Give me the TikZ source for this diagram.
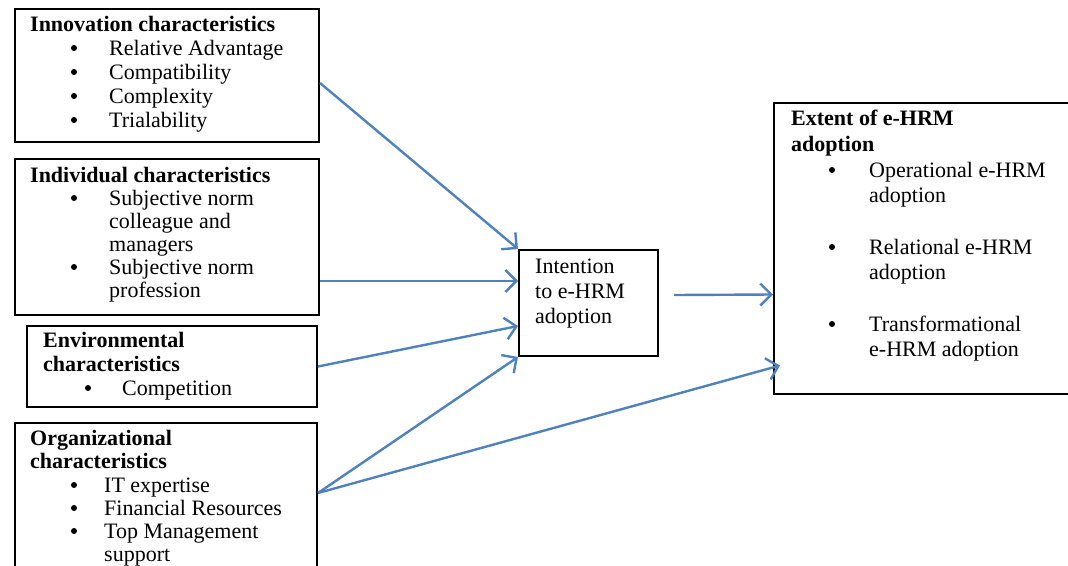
\documentclass[tikz,border=0pt]{standalone}
\usepackage{fontspec}
\setmainfont{Liberation Serif}
\usetikzlibrary{arrows.meta}
\definecolor{linkblue}{RGB}{79,129,189}
\tikzset{
  x=1pt, y=-1pt,
  box/.style={draw=black, line width=2pt, rectangle, inner sep=0pt, anchor=north west},
  txt/.style={anchor=base west, inner sep=0pt, font=\fontsize{22}{24}\selectfont},
  head/.style={txt, font=\fontsize{22}{24}\selectfont\bfseries},
  link/.style={draw=linkblue, line width=2.4pt, -{Straight Barb[length=11pt,width=22pt,line width=2.4pt]}}
}
% round list marker, centred a little above the baseline
\newcommand{\dotmark}[2]{\fill (#1,#2-7) circle (3pt);}
\begin{document}
\begin{tikzpicture}
\useasboundingbox (0,0) rectangle (1068,565);

% boxes
\node[box, minimum width=304pt, minimum height=133pt] (b1) at (14,8) {};
\node[box, minimum width=304pt, minimum height=156pt] (b2) at (14,158) {};
\node[box, minimum width=290pt, minimum height=81pt] (b3) at (26,325) {};
\node[box, minimum width=302pt, minimum height=170pt] (b4) at (14,422) {};
\node[box, minimum width=139pt, minimum height=106pt] (int) at (518,249) {};
\node[box, minimum width=320pt, minimum height=291pt] (ext) at (773,102) {};

% innovation characteristics
\node[head] (h1) at (30,31) {Innovation characteristics};
\foreach \y/\t in {55/Relative Advantage, 79/Compatibility, 103/Complexity, 127/Trialability}{
  \dotmark{74}{\y}
  \node[txt] at (109,\y) {\t};
}

% individual characteristics
\node[head] (h2) at (30,182) {Individual characteristics};
\dotmark{74}{205}
\node[txt] at (109,205) {Subjective norm};
\node[txt] at (109,228) {colleague and};
\node[txt] at (109,251) {managers};
\dotmark{74}{274}
\node[txt] at (109,274) {Subjective norm};
\node[txt] at (109,297) {profession};

% environmental characteristics
\node[head] (h3) at (43,347) {Environmental};
\node[head] at (43,371) {characteristics};
\dotmark{88}{395}
\node[txt] at (122,395) {Competition};

% organizational characteristics
\node[head] (h4) at (30,445) {Organizational};
\node[head] at (30,468) {characteristics};
\foreach \y/\t in {492/IT expertise, 515/Financial Resources, 538/Top Management}{
  \dotmark{74}{\y}
  \node[txt] at (104,\y) {\t};
}
\node[txt] at (104,561) {support};

% intention
\node[txt] at (535,273) {Intention};
\node[txt] at (535,298) {to e-HRM};
\node[txt] at (535,323) {adoption};

% extent of adoption
\node[head] (h5) at (791,125) {Extent of e-HRM};
\node[head] at (791,151) {adoption};
\dotmark{832}{177}
\node[txt] at (869,177) {Operational e-HRM};
\node[txt] at (869,202) {adoption};
\dotmark{832}{254}
\node[txt] at (869,254) {Relational e-HRM};
\node[txt] at (869,279) {adoption};
\dotmark{832}{331}
\node[txt] at (869,331) {Transformational};
\node[txt] at (869,356) {e-HRM adoption};

% connectors
\coordinate (o4) at ([yshift=-71pt]b4.north east);
\coordinate (i6) at ([xshift=15pt,yshift=8pt]int.east);
\draw[link] ([yshift=-7.5pt]b1.east) -- (int.north west);
\draw[link] ([yshift=-44pt]b2.east) -- ([yshift=22pt]int.west);
\draw[link] (b3.east) -- ([yshift=-23pt]int.west);
\draw[link] (o4) -- (int.south west);
\draw[link] (o4) -- ([xshift=7pt,yshift=-117pt]ext.west);
\draw[link] (i6) -- ([yshift=-46pt]ext.west);
\end{tikzpicture}
\end{document}
